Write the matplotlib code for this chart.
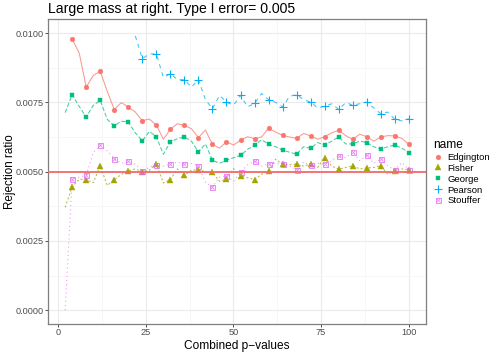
import numpy as np
import matplotlib
matplotlib.use("Agg")
import matplotlib.pyplot as plt
from matplotlib.lines import Line2D

plt.rcParams['font.family'] = ['Liberation Sans', 'DejaVu Sans']

x = list(range(2, 101, 2))

edgington = [np.nan, 0.00978, 0.00928, 0.00805, 0.00847, 0.00862, 0.00790, 0.00724, 0.00749, 0.00734,
             0.00715, 0.00684, 0.00690, 0.00668, 0.00617, 0.00653, 0.00673, 0.00667, 0.00655, 0.00623,
             0.00650, 0.00598, 0.00585, 0.00608, 0.00596, 0.00613, 0.00626, 0.00619, 0.00625, 0.00657,
             0.00643, 0.00631, 0.00625, 0.00620, 0.00638, 0.00629, 0.00617, 0.00626, 0.00640, 0.00649,
             0.00630, 0.00617, 0.00635, 0.00626, 0.00610, 0.00625, 0.00630, 0.00629, 0.00620, 0.00599]
george = [0.00713, 0.00778, 0.00735, 0.00697, 0.00739, 0.00757, 0.00689, 0.00665, 0.00682, 0.00679,
          0.00640, 0.00611, 0.00645, 0.00626, 0.00563, 0.00607, 0.00619, 0.00625, 0.00610, 0.00571,
          0.00600, 0.00541, 0.00530, 0.00541, 0.00550, 0.00559, 0.00580, 0.00596, 0.00615, 0.00599,
          0.00590, 0.00578, 0.00570, 0.00563, 0.00590, 0.00584, 0.00605, 0.00596, 0.00610, 0.00625,
          0.00600, 0.00600, 0.00610, 0.00605, 0.00590, 0.00581, 0.00590, 0.00596, 0.00585, 0.00569]
pearson = [np.nan] * 10 + [
          0.00990, 0.00908, 0.00925, 0.00925, 0.00840, 0.00854, 0.00832, 0.00832, 0.00805, 0.00832,
          0.00760, 0.00727, 0.00775, 0.00751, 0.00740, 0.00775, 0.00734, 0.00746, 0.00782, 0.00760,
          0.00750, 0.00734, 0.00772, 0.00778, 0.00760, 0.00751, 0.00730, 0.00736, 0.00745, 0.00725,
          0.00749, 0.00740, 0.00745, 0.00751, 0.00730, 0.00709, 0.00715, 0.00689, 0.00683, 0.00691]
fisher = [0.00371, 0.00445, 0.00473, 0.00471, 0.00460, 0.00521, 0.00450, 0.00471, 0.00490, 0.00503,
          0.00510, 0.00499, 0.00505, 0.00527, 0.00459, 0.00471, 0.00510, 0.00487, 0.00505, 0.00507,
          0.00500, 0.00497, 0.00465, 0.00473, 0.00511, 0.00485, 0.00478, 0.00471, 0.00490, 0.00503,
          0.00545, 0.00527, 0.00525, 0.00527, 0.00520, 0.00527, 0.00515, 0.00551, 0.00520, 0.00509,
          0.00515, 0.00521, 0.00510, 0.00513, 0.00515, 0.00521, 0.00491, 0.00503, 0.00510, 0.00507]
stouffer = [0.0, 0.00473, 0.00480, 0.00487, 0.00569, 0.00595, 0.00575, 0.00547, 0.00530, 0.00537,
            0.00527, 0.00502, 0.00515, 0.00525, 0.00520, 0.00527, 0.00535, 0.00527, 0.00530, 0.00521,
            0.00461, 0.00445, 0.00480, 0.00485, 0.00465, 0.00497, 0.00525, 0.00537, 0.00520, 0.00527,
            0.00530, 0.00527, 0.00520, 0.00507, 0.00535, 0.00523, 0.00530, 0.00527, 0.00540, 0.00557,
            0.00550, 0.00571, 0.00540, 0.00559, 0.00530, 0.00547, 0.00520, 0.00507, 0.00533, 0.00507]

names = ["Edgington", "Fisher", "George", "Pearson", "Stouffer"]
series = [edgington, fisher, george, pearson, stouffer]
colors = ["#F8766D", "#A3A500", "#00BF7D", "#00B0F6", "#E76BF3"]
dashes = [None, (2, 2), (4, 2), (4, 4), (1, 3)]
markers = ["o", "^", "s", "+", "s"]
sizes = [3.4, 3.8, 3.3, 5.8, 3.6]
alpha_level = 0.005

fig = plt.figure(figsize=(4.98, 3.53), dpi=100)
ax = fig.add_axes([48/498, 1-324/353, (426-48)/498, (324-19)/353])

xa = np.array(x, dtype=float)
mask = (xa % 4 == 0)
for name, y, c, d, m, s in zip(names, series, colors, dashes, markers, sizes):
    ya = np.array(y, dtype=float)
    ln, = ax.plot(xa, ya, color=c, lw=0.75, alpha=0.75, zorder=3)
    if d is not None:
        ln.set_dashes(d)
    if name == "Stouffer":
        ax.plot(xa[mask], ya[mask], linestyle='none', marker='s', ms=s, mfc='none',
                mec=c, mew=0.7, alpha=0.8, zorder=4)
        ax.plot(xa[mask], ya[mask], linestyle='none', marker='x', ms=s*0.75, mec=c,
                mew=0.6, alpha=0.8, zorder=4)
    elif m == "+":
        ax.plot(xa[mask], ya[mask], linestyle='none', marker='+', ms=s, mec=c, mew=0.8, zorder=4)
    else:
        ax.plot(xa[mask], ya[mask], linestyle='none', marker=m, ms=s, mfc=c, mec=c, mew=0.3, zorder=4)

ax.axhline(alpha_level, color="#F46A6A", lw=1.3, zorder=5)

ax.set_xlim(-2.9, 104.9)
ax.set_ylim(-0.0005, 0.01051)
ax.set_xticks([0, 25, 50, 75, 100])
ax.set_yticks([0, 0.0025, 0.005, 0.0075, 0.01])
ax.set_yticklabels(["0.0000", "0.0025", "0.0050", "0.0075", "0.0100"])
ax.set_xticks([12.5, 37.5, 62.5, 87.5], minor=True)
ax.set_yticks([0.00125, 0.00375, 0.00625, 0.00875], minor=True)
ax.grid(True, which='major', color="#EBEBEB", lw=0.8, zorder=0)
ax.grid(True, which='minor', color="#F4F4F4", lw=0.5, zorder=0)
ax.set_axisbelow(True)
ax.tick_params(which='major', length=2, width=0.6, color="#333333", labelsize=6.6,
               labelcolor="#4D4D4D", pad=1)
ax.tick_params(which='minor', length=0)
for sp in ax.spines.values():
    sp.set_color("#7F7F7F")
    sp.set_linewidth(0.9)

ax.set_xlabel("Combined p\u2212values", fontsize=8.6, labelpad=2)
ax.set_ylabel("Rejection ratio", fontsize=8.4, va='center')
ax.yaxis.set_label_coords(-0.0995, 0.5)
ax.set_title("Large mass at right. Type I error= 0.005", fontsize=10.1, loc='left', pad=4)

handles = []
for name, c, m, s in zip(names, colors, markers, sizes):
    if name == "Stouffer":
        h = (Line2D([], [], linestyle='none', marker='s', ms=s, mfc='none', mec=c, mew=0.7, alpha=0.8),
             Line2D([], [], linestyle='none', marker='x', ms=s*0.75, mec=c, mew=0.6, alpha=0.8))
    elif m == "+":
        h = Line2D([], [], linestyle='none', marker='+', ms=s, mec=c, mew=0.8)
    else:
        h = Line2D([], [], linestyle='none', marker=m, ms=s, mfc=c, mec=c, mew=0.3)
    handles.append(h)
leg = fig.legend(handles, names, title="name", loc='upper left',
                 bbox_to_anchor=(433/498, 1-139/353), frameon=False,
                 fontsize=6.8, title_fontsize=8.6, labelspacing=0.2,
                 handletextpad=0.5, handlelength=1.0, borderpad=0, borderaxespad=0)
leg._legend_box.align = "left"

fig.savefig("out.png", dpi=100)
